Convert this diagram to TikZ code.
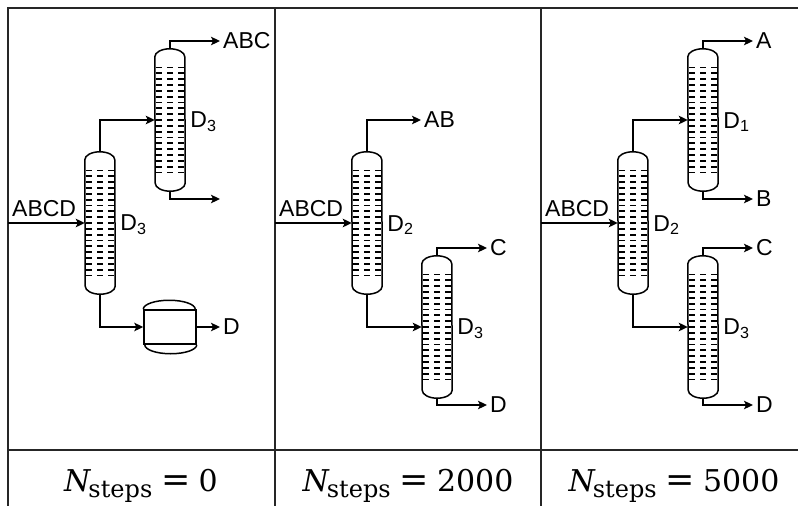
\documentclass[tikz,border=0pt]{standalone}
\usepackage{fontspec}
\usetikzlibrary{positioning,arrows.meta}
\newfontfamily\labelfont{Liberation Sans}
\newfontfamily\stepfont{DejaVu Serif}
\newcommand{\nsteps}[1]{{\itshape N}\kern-2pt\raisebox{-6pt}{\fontsize{24}{26}\selectfont steps}\kern 9pt{\fontsize{35}{38}\selectfont=}\kern 8pt#1}
\newcommand{\tower}[3]{%
  \node[towerbox] (#1) at (#2,#3) {};
  \draw[unit] ([yshift=-8pt]#1.north west) arc[start angle=180,end angle=0,x radius=15pt,y radius=8pt]
    -- ([yshift=8pt]#1.south east) arc[start angle=0,end angle=-180,x radius=15pt,y radius=8pt] -- cycle;
  \foreach \k in {-9,...,9} {
    \foreach \dx in {-11,0,11} {
      \draw[tray] (#2+\dx-3,#3+\k*5.83) -- ++(6,0);
    }
  }
}
\begin{document}
\begin{tikzpicture}[x=1pt,y=-1pt,>={Stealth[length=9pt,width=8.5pt,inset=2pt]}]
  \tikzstyle{towerbox}=[minimum width=30pt,minimum height=142pt,inner sep=0pt]
  \tikzstyle{unit}=[line width=1.5pt]
  \tikzstyle{tray}=[line width=1.8pt]
  \tikzstyle{frame}=[line width=1.6pt,color=black!85]
  \tikzstyle{flow}=[->,line width=1.4pt]
  \tikzstyle{stream}=[font=\labelfont\fontsize{23}{25}\selectfont,inner sep=3pt]
  \tikzstyle{unitname}=[font=\labelfont\fontsize{23}{25}\selectfont,inner sep=0pt,anchor=west,yshift=-2pt]
  \tikzstyle{steps}=[font=\stepfont\fontsize{30}{34}\selectfont,anchor=base,inner sep=0pt]
  \useasboundingbox (0,0) rectangle (798,506);
  % table lines
  \draw[frame] (8,506) -- (8,8) -- (798,8);
  \draw[frame] (8,450) -- (798,450);
  \draw[frame] (275,8) -- (275,506);
  \draw[frame] (541,8) -- (541,506);
  % left panel
  \tower{towerA}{100}{223}
  \tower{towerB}{170}{120}
  \node[draw,line width=1.5pt,minimum width=52pt,minimum height=34pt,inner sep=0pt] (drum) at (170,327) {};
  \draw[unit] (drum.north west) arc[start angle=180,end angle=0,x radius=26pt,y radius=9pt];
  \draw[unit] (drum.south east) arc[start angle=0,end angle=-180,x radius=26pt,y radius=9pt];
  \coordinate (feedA) at (8,223);
  \coordinate (bottomB) at (220,199);
  \node[stream,above right=3pt and 1pt of feedA] (abcdA) {ABCD};
  \node[unitname,right=5pt of towerA] (nameA) {D\textsubscript{3}};
  \node[unitname,right=5pt of towerB] (nameB) {D\textsubscript{3}};
  \node[stream,anchor=west] (abc) at (220,41) {ABC};
  \node[stream,anchor=west] (dA) at (220,327) {D};
  \draw[flow] (feedA) -- (towerA.west);
  \draw[flow] (towerA.north) |- (towerB.west);
  \draw[flow] (towerA.south) |- (drum.west);
  \draw[flow] (towerB.north) |- (abc.west);
  \draw[flow] (towerB.south) |- (bottomB);
  \draw[flow] (drum.east) -- (dA.west);
  % middle panel
  \tower{towerC}{367}{223}
  \tower{towerD}{437}{327}
  \coordinate (feedC) at (275,223);
  \node[stream,above right=3pt and 1pt of feedC] (abcdC) {ABCD};
  \node[unitname,right=5pt of towerC] (nameC) {D\textsubscript{2}};
  \node[unitname,right=5pt of towerD] (nameD) {D\textsubscript{3}};
  \node[stream,anchor=west] (ab) at (421,120) {AB};
  \node[stream,anchor=west] (cC) at (487,248) {C};
  \node[stream,anchor=west] (dC) at (487,405) {D};
  \draw[flow] (feedC) -- (towerC.west);
  \draw[flow] (towerC.north) |- (ab.west);
  \draw[flow] (towerC.south) |- (towerD.west);
  \draw[flow] (towerD.north) |- (cC.west);
  \draw[flow] (towerD.south) |- (dC.west);
  % right panel
  \tower{towerE}{633}{223}
  \tower{towerF}{703}{120}
  \tower{towerG}{703}{327}
  \coordinate (feedE) at (541,223);
  \node[stream,above right=3pt and 1pt of feedE] (abcdE) {ABCD};
  \node[unitname,right=5pt of towerE] (nameE) {D\textsubscript{2}};
  \node[unitname,right=5pt of towerF] (nameF) {D\textsubscript{1}};
  \node[unitname,right=5pt of towerG] (nameG) {D\textsubscript{3}};
  \node[stream,anchor=west] (aE) at (753,41) {A};
  \node[stream,anchor=west] (bE) at (753,199) {B};
  \node[stream,anchor=west] (cE) at (753,248) {C};
  \node[stream,anchor=west] (dE) at (753,405) {D};
  \draw[flow] (feedE) -- (towerE.west);
  \draw[flow] (towerE.north) |- (towerF.west);
  \draw[flow] (towerE.south) |- (towerG.west);
  \draw[flow] (towerF.north) |- (aE.west);
  \draw[flow] (towerF.south) |- (bE.west);
  \draw[flow] (towerG.north) |- (cE.west);
  \draw[flow] (towerG.south) |- (dE.west);
  % step counts
  \node[steps] (stepsA) at (141,491) {\nsteps{0}};
  \node[steps] (stepsB) at (408,491) {\nsteps{2000}};
  \node[steps] (stepsC) at (674,491) {\nsteps{5000}};
\end{tikzpicture}
\end{document}
